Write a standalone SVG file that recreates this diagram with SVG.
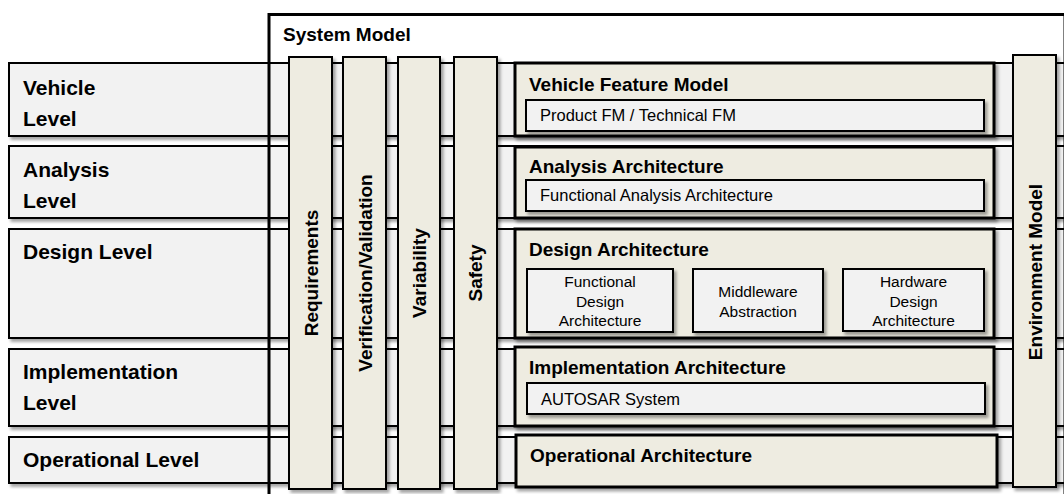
<svg xmlns="http://www.w3.org/2000/svg" width="1064" height="494" viewBox="0 0 1064 494">
<defs>
<filter id="sh" x="-10%" y="-10%" width="130%" height="140%">
<feDropShadow dx="2.5" dy="3" stdDeviation="1.5" flood-color="#000" flood-opacity="0.35"/>
</filter>
<style>
.bar{fill:#f2f2f2;stroke:#000;stroke-width:2;filter:url(#sh)}
.col{fill:#eeece1;stroke:#000;stroke-width:2;filter:url(#sh)}
.arch{fill:#eeece1;stroke:#000;stroke-width:3;filter:url(#sh)}
.inner{fill:#f2f2f2;stroke:#000;stroke-width:2;filter:url(#sh)}
.sys{fill:none;stroke:#000;stroke-width:3}
text{font-family:"Liberation Sans",Arial,sans-serif;fill:#000}
.lvl{font-size:21px;font-weight:bold}
.ttl{font-size:19px;font-weight:bold}
.vt{font-size:19px;font-weight:bold;text-anchor:middle}
.in{font-size:16.5px}
.sm{font-size:15.5px;text-anchor:middle}
</style>
</defs>
<rect x="0" y="0" width="1064" height="494" fill="#fff"/>

<g id="level-vehicle"><rect class="bar" x="9" y="63" width="1100" height="73"/><text class="lvl" x="23" y="95">Vehicle</text><text class="lvl" x="23" y="126">Level</text></g>
<g id="level-analysis"><rect class="bar" x="9" y="146" width="1100" height="72"/><text class="lvl" x="23" y="177">Analysis</text><text class="lvl" x="23" y="208">Level</text></g>
<g id="level-design"><rect class="bar" x="9" y="229" width="1100" height="109"/><text class="lvl" x="23" y="259">Design Level</text></g>
<g id="level-implementation"><rect class="bar" x="9" y="349" width="1100" height="77"/><text class="lvl" x="23" y="379">Implementation</text><text class="lvl" x="23" y="410">Level</text></g>
<g id="level-operational"><rect class="bar" x="9" y="437" width="1100" height="46"/><text class="lvl" x="23" y="467">Operational Level</text></g>

<g id="system-model"><rect class="sys" x="269" y="14.5" width="796" height="520"/><text class="ttl" x="283" y="41">System Model</text></g>

<g id="col-requirements"><rect class="col" x="289" y="57" width="43" height="432"/><text class="vt" transform="translate(318,273) rotate(-90)">Requirements</text></g>
<g id="col-verification"><rect class="col" x="343" y="57" width="43" height="432"/><text class="vt" transform="translate(372,273) rotate(-90)">Verification/Validation</text></g>
<g id="col-variability"><rect class="col" x="398" y="57" width="42" height="432"/><text class="vt" transform="translate(426,273) rotate(-90)">Variability</text></g>
<g id="col-safety"><rect class="col" x="454" y="57" width="43" height="432"/><text class="vt" transform="translate(482,273) rotate(-90)">Safety</text></g>
<g id="col-environment"><rect class="col" x="1013" y="55" width="43" height="432"/><text class="vt" transform="translate(1042,272) rotate(-90)">Environment Model</text></g>

<g id="arch-vehicle"><rect class="arch" x="515" y="63" width="479" height="73"/><text class="ttl" x="529" y="91">Vehicle Feature Model</text>
<rect class="inner" x="526" y="100" width="458" height="31"/><text class="in" x="540" y="121">Product FM / Technical FM</text></g>
<g id="arch-analysis"><rect class="arch" x="515" y="147" width="479" height="71"/><text class="ttl" x="529" y="173">Analysis Architecture</text>
<rect class="inner" x="526" y="180" width="458" height="31"/><text class="in" x="540" y="201">Functional Analysis Architecture</text></g>
<g id="arch-design"><rect class="arch" x="515" y="229" width="479" height="109"/><text class="ttl" x="529" y="256">Design Architecture</text>
<g id="functional-design"><rect class="inner" x="527" y="269" width="146" height="63"/><text class="sm" x="600" y="287">Functional</text><text class="sm" x="600" y="307">Design</text><text class="sm" x="600" y="326">Architecture</text></g>
<g id="middleware"><rect class="inner" x="693" y="269" width="130" height="63"/><text class="sm" x="758" y="297">Middleware</text><text class="sm" x="758" y="317">Abstraction</text></g>
<g id="hardware-design"><rect class="inner" x="843" y="269" width="141" height="62"/><text class="sm" x="913.5" y="287">Hardware</text><text class="sm" x="913.5" y="307">Design</text><text class="sm" x="913.5" y="326">Architecture</text></g></g>
<g id="arch-implementation"><rect class="arch" x="515" y="347" width="479" height="79"/><text class="ttl" x="529" y="374">Implementation Architecture</text>
<rect class="inner" x="527" y="383" width="458" height="31"/><text class="in" x="541" y="405">AUTOSAR System</text></g>
<g id="arch-operational"><rect class="arch" x="516" y="435" width="481" height="52"/><text class="ttl" x="530" y="462">Operational Architecture</text></g>
<g id="connectors"></g>
</svg>
